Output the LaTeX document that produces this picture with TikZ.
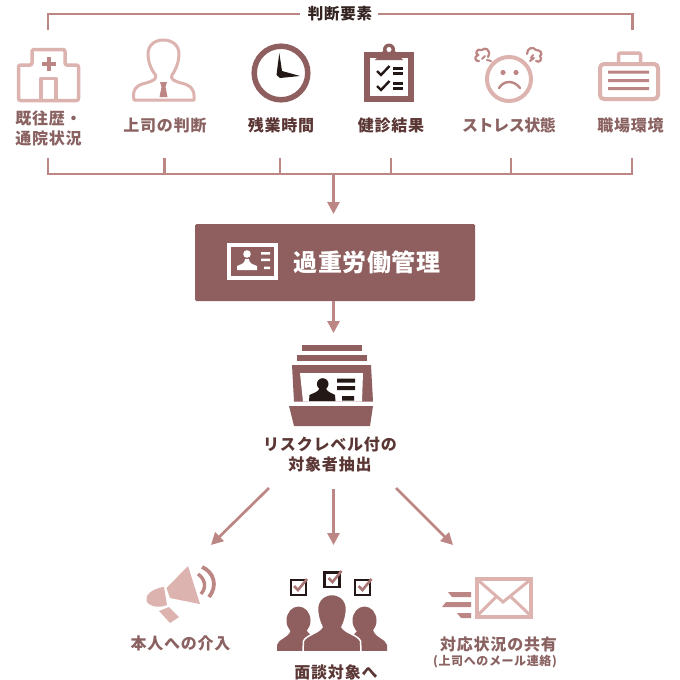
\documentclass[tikz,border=0pt]{standalone}
\usepackage{fontspec}
\newfontfamily\cjk[LetterSpace=5]{Noto Sans CJK JP}
\newfontfamily\cjktight[LetterSpace=-3]{Noto Sans CJK JP}
\newfontfamily\cjkwide[LetterSpace=2]{Noto Sans CJK JP}
\usetikzlibrary{arrows.meta}
\definecolor{dk}{HTML}{8E5F5E}
\definecolor{lt}{HTML}{DDB3B0}
\definecolor{md}{HTML}{BC8684}
\definecolor{ink}{HTML}{231815}
\definecolor{tx}{HTML}{5A3634}
\definecolor{txl}{HTML}{8A6261}
\tikzset{
  lbl/.style={inner sep=0pt,align=center,font=\cjk\bfseries\fontsize{16}{20}\selectfont,text=tx},
  lbll/.style={lbl,text=txl},
  conn/.style={draw=md,line width=2.2pt},
  arr/.style={draw=md,line width=2.7pt,-{Triangle[length=12pt,width=12pt]}},
  ic/.style={draw=lt,line width=3.5pt,line join=round,fill=none},
  chk/.style={draw=ink,line width=2.2pt,fill=white},
}
\begin{document}
\begin{tikzpicture}[x=1pt,y=-1pt]
\useasboundingbox[fill=white] (0,0) rectangle (680,680);
% top bracket
\node[lbl,font=\cjk\bfseries\fontsize{15.5}{18}\selectfont,text=ink!85!dk] (title) at (340,14) {判断要素};
\coordinate (tl) at (48,30);
\coordinate (tr) at (632.5,30);
\draw[conn] (tl) -- (48,14) -- (300,14);
\draw[conn] (378,14) -- (632.5,14) -- (tr);
% hospital
\draw[ic,rounded corners=2pt] (18.5,100.5) -- (18.5,65) -- (32,65) -- (32,49.5) -- (65,49.5) -- (65,65) -- (78.5,65) -- (78.5,100.5) -- cycle;
\draw[ic] (41,100) -- (41,78.5) -- (56,78.5) -- (56,100);
\fill[md] (46.5,57) rectangle (50.5,71);
\fill[md] (41.5,62) rectangle (55.5,66);
% boss
\draw[ic,line width=3pt] (134,100) .. controls (132,90) and (136,85) .. (146,83) .. controls (153,81) and (157,79) .. (155.5,75)
  .. controls (150,68) and (148,60) .. (148,54) .. controls (148,45) and (155,40) .. (163,40) .. controls (172,40) and (179,45) .. (179,54)
  .. controls (179,60) and (177,68) .. (172,75) .. controls (170,79) and (174,81) .. (181,83) .. controls (191,85) and (195,90) .. (194,100) -- cycle;
\fill[md] (160,82) -- (167,82) -- (165.5,87) -- (167.5,97) -- (159.5,97) -- (161.5,87) -- cycle;
% clock
\draw[dk,line width=5.5pt] (281,73) circle (26.8);
\fill[ink] (279.3,53) -- (282,71) -- (300,76) -- (280,78) -- (276.5,75) -- cycle;
% clipboard
\fill[dk] (363.5,52) rectangle (414,102);
\fill[white] (370,58) rectangle (408,96);
\fill[dk] (375,60) -- (403,60) -- (394,50) -- (384,50) -- cycle;
\fill[dk] (389,49.5) circle (6);
\fill[white] (389,49.5) circle (2.5);
\foreach \yy in {0,15}{
  \draw[ink,line width=2.4pt] (377,71+\yy) -- (381,75+\yy) -- (389.5,66+\yy);
  \fill[ink] (393,66.5+\yy) rectangle (403,69.5+\yy);
  \fill[ink] (393,71.5+\yy) rectangle (403,74.5+\yy);
}
% stress face
\draw[lt,line width=4pt] (509,79) circle (22);
\fill[md] (503,72.5) circle (2.6) (516,72.5) circle (2.6);
\draw[md,line width=2.4pt,line cap=round] (499,88) .. controls (504,80) and (514,80) .. (520,88);
\draw[md,line width=2.2pt,line cap=round,fill=none] (488,57) .. controls (492,49) and (484,47) .. (482,50) .. controls (476,48) and (475,54) .. (478,55) .. controls (473,57) and (476,62) .. (479,61);
\draw[md,line width=2pt,line cap=round] (485,56) -- (482,59) (491,61) -- (487,60);
\draw[md,line width=2.2pt,line cap=round,fill=none] (527,54) .. controls (527,48) and (533,46) .. (536,50) .. controls (541,50) and (543,54) .. (540,56) .. controls (543,60) and (539,63) .. (536,61);
\draw[md,line width=2pt,line cap=round] (533,55) -- (531,58) (534,58) -- (530,61);
% briefcase
\draw[ic,rounded corners=4pt,line width=4pt] (600,64) rectangle (658,99);
\draw[ic,rounded corners=2pt] (618.5,63) -- (618.5,53) -- (640.5,53) -- (640.5,63);
\fill[md] (608,70.5) rectangle (649,73.5) (608,79) rectangle (649,82) (608,87) rectangle (649,90);
% labels
\node[lbll] (l1) at (48.5,128) {既往歴・\\通院状況};
\node[lbll] (l2) at (165,125) {上司の判断};
\node[lbl] (l3) at (281,125) {残業時間};
\node[lbl] (l4) at (391,125) {健診結果};
\node[lbll,font=\cjktight\bfseries\fontsize{16}{20}\selectfont] (l5) at (509,125) {ストレス状態};
\node[lbll] (l6) at (630.5,125) {職場環境};
% lower bracket
\coordinate (b1) at (48,158);
\coordinate (b2) at (164.5,158);
\coordinate (b3) at (280,158);
\coordinate (b4) at (390.7,158);
\coordinate (b5) at (510.7,158);
\coordinate (b6) at (632,158);
\draw[conn] (b1) -- (48,174) -- (632,174) -- (b6);
\draw[conn] (b2) -- (164.5,174) (b3) -- (280,174) (b4) -- (390.7,174) (b5) -- (510.7,174);
% main box
\node[draw=none,fill=dk,rounded corners=1.5pt,minimum width=280pt,minimum height=77pt,inner sep=0pt] (box) at (335,262.5) {};
\coordinate (j) at (333.5,174);
\draw[arr] (j) -- (333.5,214);
\draw[white,line width=4pt] (229,245) rectangle (276,278);
\fill[white] (247,254) circle (3.8);
\fill[white] (237,270) -- (237,266) .. controls (241,264) and (245,264) .. (245,259) -- (249,259) .. controls (249,264) and (253,264) .. (257,266) -- (257,270) -- cycle;
\fill[white] (261,252) rectangle (270,254.5) (261,258.5) rectangle (270,261) (264,266.5) rectangle (270,269);
\node[lbl,font=\cjkwide\bfseries\fontsize{24}{26}\selectfont,text=white] (main) at (367,262) {過重労働管理};
% stack
\coordinate (st) at (333.5,333);
\draw[arr] (box.south -| st) -- (st);
\fill[dk] (302,345) rectangle (362,351);
\fill[dk] (297,355) rectangle (367,361);
\fill[dk] (292,365) -- (371,365) -- (373,401.5) -- (294,401.5) -- cycle;
\fill[white] (300,373) -- (363,373) -- (362,401.5) -- (303,401.5) -- cycle;
\fill[dk] (289,406) -- (373,406) -- (370,426) -- (294,426) -- cycle;
\fill[ink] (322.7,384) circle (5.8);
\fill[ink] (309,401) -- (309.5,395) .. controls (313,393) and (319,392) .. (319.5,388) -- (326,388) .. controls (326.5,392) and (332,393) .. (335,395) -- (335.5,401) -- cycle;
\fill[ink] (337,378.5) rectangle (355,382.5) (337,386) rectangle (355,390) (342,396) rectangle (354,400.5);
\node[lbl] (risk) at (330,455) {リスクレベル付の\\対象者抽出};
% three arrows
\coordinate (a1) at (269,488);
\coordinate (a2) at (333.5,489);
\coordinate (a3) at (396,488);
\coordinate (h1) at (211,545);
\coordinate (h2) at (333.5,545);
\coordinate (h3) at (453,545);
\draw[arr] (a1) -- (h1);
\draw[arr] (a2) -- (h2);
\draw[arr] (a3) -- (h3);
% megaphone
\fill[lt] (166.5,588) -- (188,566) -- (200,604) -- (170,598) -- cycle;
\fill[lt] (147,596) .. controls (150,591) and (156,588) .. (164,587) -- (167,605) .. controls (159,608) and (153,607) .. (149,604) .. controls (146,602) and (146,599) .. (147,596) -- cycle;
\fill[lt] (159,611) -- (169,607) -- (179,617) -- (170,623) -- cycle;
\draw[md,line width=3.4pt] (198,574) .. controls (205,579) and (207,587) .. (201,594);
\draw[md,line width=3.8pt] (202,567) .. controls (214,572) and (218,586) .. (209,597);
\node[lbll] (self) at (180.5,643) {本人への介入};
% people
\fill[dk] (298.5,620.5) ellipse (12 and 14);
\fill[dk] (277,651) -- (277,645) .. controls (279,638) and (288,639) .. (291,630) -- (306,630) -- (325,651) -- cycle;
\fill[dk] (364.5,620.5) ellipse (12 and 14);
\fill[dk] (387,651) -- (387,645) .. controls (385,638) and (376,639) .. (373,630) -- (358,630) -- (339,651) -- cycle;
\draw[white,line width=1.5pt,fill=dk] (303,651) -- (303.5,641) .. controls (306,635) and (319,633) .. (322,627) .. controls (319,621) and (317.5,614) .. (317.5,609) .. controls (317.5,600) and (324,594.5) .. (332,594.5) .. controls (340,594.5) and (346.5,600) .. (346.5,609) .. controls (346.5,614) and (345,621) .. (342,627) .. controls (345,633) and (358,635) .. (360.5,641) -- (361,651);
\fill[white] (270,651.2) rectangle (395,656);
\draw[chk] (291,580) rectangle (306,595);
\draw[chk] (324.5,572.5) rectangle (339.5,587);
\draw[chk] (355,580) rectangle (370,595);
\foreach \px/\py in {298/587,332.5/579,362.5/587}{
  \draw[md!60!dk,line width=2.6pt] (\px-4,\py-1) -- (\px,\py+3) -- (\px+9,\py-8);
}
\node[lbl] (iv) at (336,672) {面談対象へ};
% envelope
\draw[ic,line width=4pt,miter limit=2,line join=miter] (477,578.5) rectangle (531,616.5);
\draw[lt,line width=3pt] (478,580) -- (503,602) -- (530,580);
\draw[lt,line width=3pt] (478,615) -- (496,597) (530,615) -- (511,597);
\fill[md] (448,592) -- (471,592) -- (471,597) -- (452,597) -- cycle;
\fill[md] (446,602) -- (471,602) -- (471,607) -- (442,607) -- cycle;
\fill[md] (457,613) -- (471,613) -- (471,618) -- (461,618) -- cycle;
\node[lbll] (share) at (498.5,644) {対応状況の共有};
\node[lbll,font=\cjk\bfseries\fontsize{12}{14}\selectfont] (mail) at (495,662) {(上司へのメール連絡)};
\end{tikzpicture}
\end{document}
